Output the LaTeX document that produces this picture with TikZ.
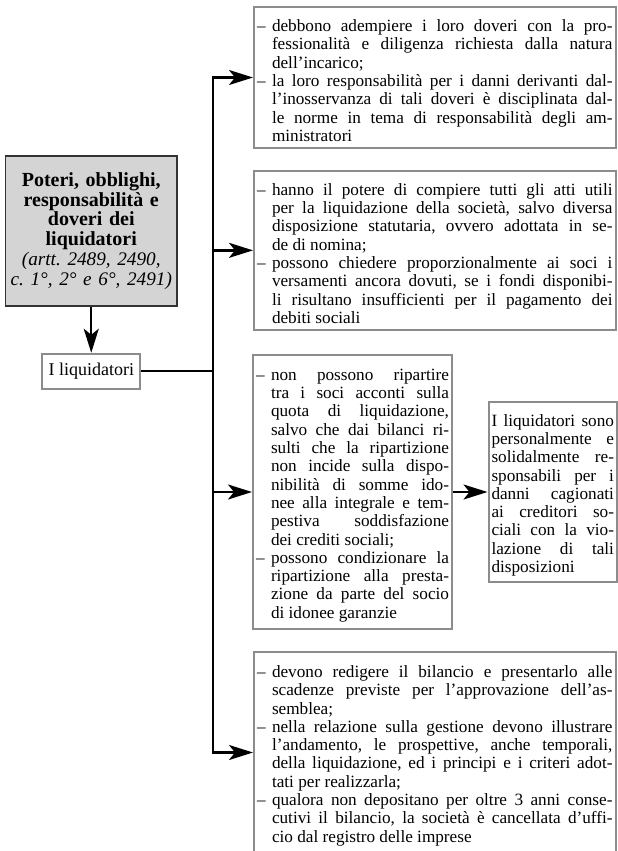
\documentclass[tikz,border=0pt]{standalone}
\usepackage{fontspec}
\setmainfont{Liberation Serif}
\usetikzlibrary{arrows.meta,positioning}
\frenchspacing
% one typeset line per macro, so the breaks follow the printed page
\newlength\dashind
\setlength\dashind{7.5pt}
\newlength\linew
\newcommand\plainmid[1]{\par\noindent\hbox to\linew{#1}\par}
\newcommand\plainlast[1]{\plainmid{#1\hfill}}
\newcommand\itemfirst[1]{\plainmid{\hbox to\dashind{–\hss}#1}}
\newcommand\itemmid[1]{\plainmid{\hskip\dashind\relax #1}}
\newcommand\itemlast[1]{\plainmid{\hskip\dashind\relax #1\hfill}}

\begin{document}
\begin{tikzpicture}[x=0.5pt,y=-0.5pt,line width=1.15pt,
  >={Stealth[length=12pt,width=7.5pt,inset=3pt]},
  txtbox/.style={draw=black!45,line width=1pt,inner xsep=1.5pt,inner ysep=2pt,
    text width=#1,font=\fontsize{8.6}{9.15}\selectfont,
    execute at begin node={\setlength\linew{#1}%
      \spaceskip=2.15pt plus 5pt minus 0.4pt\relax}},
  titlebox/.style={draw=black!80,fill=black!17,line width=0.75pt,align=center,
    text width=84pt,minimum height=75pt,inner sep=0.875pt,
    font=\fontsize{10}{9.9}\selectfont\bfseries}]
  \useasboundingbox (0,0) rectangle (617,851);

  \node[titlebox] (title) at (91.25,231)
    {Poteri, obblighi,\\ responsabilità e\\ doveri dei\\ liquidatori\\
     \fontsize{9.6}{9.9}\selectfont\mdseries\itshape (artt. 2489, 2490,\\ c. 1°, 2° e 6°, 2491)};
  \node[draw=black!45,line width=1pt,font=\fontsize{9}{9.9}\selectfont,
    minimum width=49pt,minimum height=17.5pt,inner sep=1pt,
    below=23pt of title] (liq) {I liquidatori};

  \node[txtbox=177.75pt,minimum height=70.2pt] (b1) at (434.75,77.5) {%
    \itemfirst{debbono adempiere i loro doveri con la pro-}
    \itemmid{fessionalità e diligenza richiesta dalla natura}
    \itemlast{dell’incarico;}
    \itemfirst{la loro responsabilità per i danni derivanti dal-}
    \itemmid{l’inosservanza di tali doveri è disciplinata dal-}
    \itemmid{le norme in tema di responsabilità degli am-}
    \itemlast{ministratori}};
  \node[txtbox=177.75pt,minimum height=79.65pt] (b2) at (434.75,250.35) {%
    \itemfirst{hanno il potere di compiere tutti gli atti utili}
    \itemmid{per la liquidazione della società, salvo diversa}
    \itemmid{disposizione statutaria, ovvero adottata in se-}
    \itemlast{de di nomina;}
    \itemfirst{possono chiedere proporzionalmente ai soci i}
    \itemmid{versamenti ancora dovuti, se i fondi disponibi-}
    \itemmid{li risultano insufficienti per il pagamento dei}
    \itemlast{debiti sociali}};
  \node[txtbox=96.5pt,minimum height=137pt] (b3) at (352.5,492) {%
    \itemfirst{non possono ripartire}
    \itemmid{tra i soci acconti sulla}
    \itemmid{quota di liquidazione,}
    \itemmid{salvo che dai bilanci ri-}
    \itemmid{sulti che la ripartizione}
    \itemmid{non incide sulla dispo-}
    \itemmid{nibilità di somme ido-}
    \itemmid{nee alla integrale e tem-}
    \itemmid{pestiva soddisfazione}
    \itemlast{dei crediti sociali;}
    \itemfirst{possono condizionare la}
    \itemmid{ripartizione alla presta-}
    \itemmid{zione da parte del socio}
    \itemlast{di idonee garanzie}};
  \node[txtbox=61.25pt,minimum height=90pt,right=17.25pt of b3] (b4) {%
    \plainmid{I liquidatori sono}
    \plainmid{personalmente e}
    \plainmid{solidalmente re-}
    \plainmid{sponsabili per i}
    \plainmid{danni cagionati}
    \plainmid{ai creditori so-}
    \plainmid{ciali con la vio-}
    \plainmid{lazione di tali}
    \plainlast{disposizioni}};
  \node[txtbox=177.75pt,minimum height=100.5pt] (b5) at (434.75,752.5) {%
    \itemfirst{devono redigere il bilancio e presentarlo alle}
    \itemmid{scadenze previste per l’approvazione dell’as-}
    \itemlast{semblea;}
    \itemfirst{nella relazione sulla gestione devono illustrare}
    \itemmid{l’andamento, le prospettive, anche temporali,}
    \itemmid{della liquidazione, ed i principi e i criteri adot-}
    \itemlast{tati per realizzarla;}
    \itemfirst{qualora non depositano per oltre 3 anni conse-}
    \itemmid{cutivi il bilancio, la società è cancellata d’uffi-}
    \itemlast{cio dal registro delle imprese}};

  % trunk
  \path (213,0) coordinate (top);
  \coordinate (j) at (top |- liq);
  \draw[->] (title) -- (liq);
  \draw (liq) -- (j);
  \foreach \b in {b1,b2,b3,b5}
    \draw[->] (j) |- (\b);
  \draw[->] (b3) -- (b4);
\end{tikzpicture}
\end{document}
